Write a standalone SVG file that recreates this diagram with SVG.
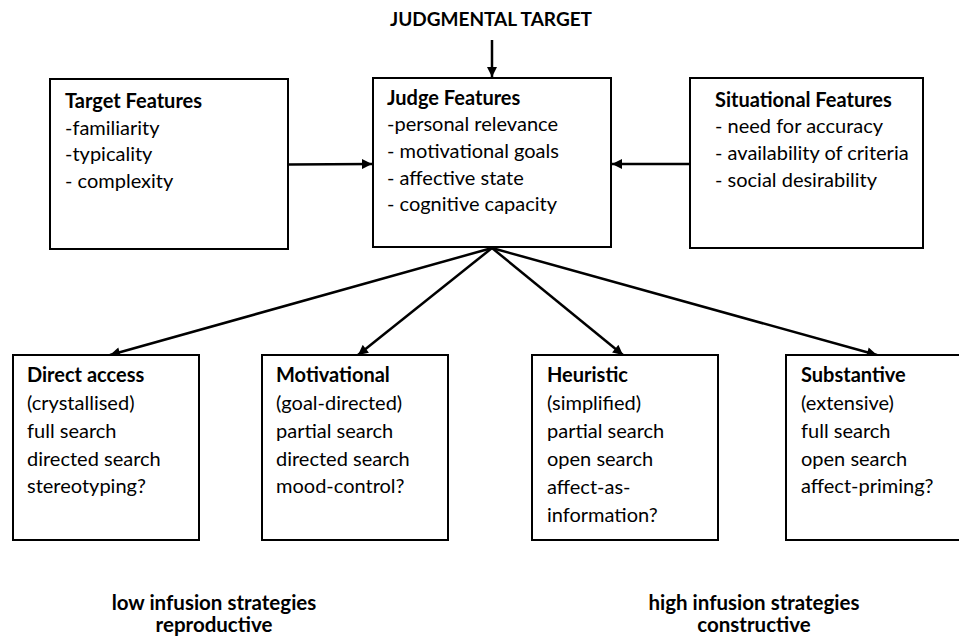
<svg xmlns="http://www.w3.org/2000/svg" width="959" height="642" viewBox="0 0 959 642">
  <style>
    .box { fill: #ffffff; stroke: #000000; stroke-width: 2; }
    .t { font-family: Lato, "Open Sans", "Liberation Sans", sans-serif; font-size: 20px; fill: #000000; }
    .b { font-weight: bold; }
    .lbl { font-family: Lato, "Open Sans", "Liberation Sans", sans-serif; font-size: 20.5px; font-weight: bold; fill: #000000; text-anchor: middle; }
    .arrow { fill: none; stroke: #000000; stroke-width: 2.5; marker-end: url(#head); }
  </style>
  <defs>
    <marker id="head" viewBox="0 0 10 10" refX="10" refY="5" markerWidth="4.4" markerHeight="4" orient="auto" markerUnits="strokeWidth">
      <path d="M0,0 L10,5 L0,10 Z" fill="#000000"/>
    </marker>
  </defs>

  <rect width="959" height="642" fill="#ffffff"/>

  <!-- title above the judge box -->
  <text class="lbl" x="491" y="26" style="font-size:19px">JUDGMENTAL TARGET</text>

  <g id="connectors">
    <line class="arrow" x1="492" y1="40" x2="492" y2="77"/>
    <line class="arrow" x1="288" y1="164.5" x2="372" y2="164"/>
    <line class="arrow" x1="690" y1="164" x2="612" y2="164"/>
    <line class="arrow" x1="492" y1="248" x2="110" y2="355"/>
    <line class="arrow" x1="492" y1="248" x2="358" y2="355"/>
    <line class="arrow" x1="492" y1="248" x2="623" y2="355"/>
    <line class="arrow" x1="492" y1="248" x2="877" y2="355"/>
  </g>

  <g id="target-features">
    <rect class="box" x="50" y="79" width="238" height="170"/>
    <text class="t b" x="65" y="108">Target Features</text>
    <text class="t" x="65" y="134.5">-familiarity</text>
    <text class="t" x="65" y="161">-typicality</text>
    <text class="t" x="65" y="188">- complexity</text>
  </g>

  <g id="judge-features">
    <rect class="box" x="373" y="78" width="238" height="169"/>
    <text class="t b" x="387" y="104.5">Judge Features</text>
    <text class="t" x="387" y="131">-personal relevance</text>
    <text class="t" x="387" y="158">- motivational goals</text>
    <text class="t" x="387" y="185">- affective state</text>
    <text class="t" x="387" y="211">- cognitive capacity</text>
  </g>

  <g id="situational-features">
    <rect class="box" x="690" y="78" width="233" height="170"/>
    <text class="t b" x="715" y="107">Situational Features</text>
    <text class="t" x="715" y="133">- need for accuracy</text>
    <text class="t" x="715" y="160">- availability of criteria</text>
    <text class="t" x="715" y="187">- social desirability</text>
  </g>

  <g id="direct-access">
    <rect class="box" x="13" y="355" width="186" height="185"/>
    <text class="t b" x="27" y="382">Direct access</text>
    <text class="t" x="27" y="410">(crystallised)</text>
    <text class="t" x="27" y="438">full search</text>
    <text class="t" x="27" y="466">directed search</text>
    <text class="t" x="27" y="493">stereotyping?</text>
  </g>

  <g id="motivational">
    <rect class="box" x="262" y="355" width="186" height="185"/>
    <text class="t b" x="276" y="382">Motivational</text>
    <text class="t" x="276" y="410">(goal-directed)</text>
    <text class="t" x="276" y="438">partial search</text>
    <text class="t" x="276" y="466">directed search</text>
    <text class="t" x="276" y="493">mood-control?</text>
  </g>

  <g id="heuristic">
    <rect class="box" x="532" y="355" width="186" height="185"/>
    <text class="t b" x="547" y="382">Heuristic</text>
    <text class="t" x="547" y="410">(simplified)</text>
    <text class="t" x="547" y="438">partial search</text>
    <text class="t" x="547" y="466">open search</text>
    <text class="t" x="547" y="494">affect-as-</text>
    <text class="t" x="547" y="521.5">information?</text>
  </g>

  <g id="substantive">
    <rect class="box" x="786" y="355" width="180" height="185"/>
    <text class="t b" x="801" y="382">Substantive</text>
    <text class="t" x="801" y="410">(extensive)</text>
    <text class="t" x="801" y="438">full search</text>
    <text class="t" x="801" y="466">open search</text>
    <text class="t" x="801" y="493">affect-priming?</text>
  </g>

  <g id="low-infusion">
    <text class="lbl" x="214" y="610">low infusion strategies</text>
    <text class="lbl" x="214" y="632">reproductive</text>
  </g>

  <g id="high-infusion">
    <text class="lbl" x="754" y="610">high infusion strategies</text>
    <text class="lbl" x="754" y="632">constructive</text>
  </g>
</svg>
